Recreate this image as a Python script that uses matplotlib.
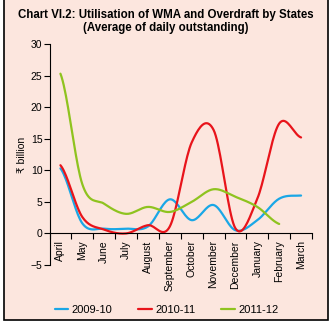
import numpy as np
import matplotlib
matplotlib.use("Agg")
import matplotlib.pyplot as plt
from matplotlib.patches import Rectangle

plt.rcParams['font.family'] = ['Liberation Sans', 'DejaVu Sans']

months = ["April", "May", "June", "July", "August", "September", "October",
          "November", "December", "January", "February", "March"]
wma_0910 = [10.3, 1.6, 0.75, 0.75, 1.1, 5.4, 2.1, 4.5, 0.5, 2.1, 5.5, 6.0]
wma_1011 = [10.8, 2.6, 0.6, 0.0, 1.3, 1.1, 14.4, 16.4, 0.8, 5.5, 17.4, 15.2]
wma_1112 = [25.3, 7.8, 4.7, 3.1, 4.2, 3.4, 5.0, 7.0, 5.8, 4.2, 1.5]
series = [("2009-10", wma_0910, "#1aa7e6"),
          ("2010-11", wma_1011, "#e8141b"),
          ("2011-12", wma_1112, "#8fc31f")]


# smoothed line like the spreadsheet (catmull-rom through the points)
def smooth(y, n=20):
    y = np.asarray(y, dtype=float)
    x = np.arange(len(y), dtype=float)
    p = np.concatenate([[y[0]], y, [y[-1]]])
    xs, ys = [], []
    for i in range(len(y) - 1):
        p0, p1, p2, p3 = p[i], p[i + 1], p[i + 2], p[i + 3]
        t = np.linspace(0, 1, n, endpoint=False)
        v = 0.5 * (2 * p1 + (-p0 + p2) * t + (2 * p0 - 5 * p1 + 4 * p2 - p3) * t ** 2
                   + (-p0 + 3 * p1 - 3 * p2 + p3) * t ** 3)
        xs.append(x[i] + t)
        ys.append(v)
    xs.append([x[-1]])
    ys.append([y[-1]])
    return np.concatenate(xs), np.concatenate(ys)


bg = "#fce6de"
fig = plt.figure(figsize=(3.31, 3.25), dpi=100, facecolor="white")
fig.patches.append(Rectangle((4 / 331, 5 / 325), 324 / 331, 325 / 325,
                             transform=fig.transFigure, facecolor=bg,
                             edgecolor="black", linewidth=1.2, zorder=-10))

ax = fig.add_axes([49.5 / 331, 60 / 325, 262.5 / 331, 221 / 325])
ax.set_facecolor("none")

for name, vals, col in series:
    xs, ys = smooth(vals)
    ax.plot(xs, ys, color=col, lw=1.6, label=name, solid_capstyle="round")

ax.set_xlim(-0.5, 11.5)
ax.set_ylim(-5, 30)
ax.set_yticks(range(-5, 31, 5))
ax.tick_params(axis="y", labelsize=7.5, length=4, width=0.8, pad=1)

ax.spines["top"].set_visible(False)
ax.spines["right"].set_visible(False)
ax.spines["bottom"].set_position(("data", 0))
ax.set_xticks(np.arange(-0.5, 12, 1))
ax.set_xticklabels([])
ax.set_xticks(range(12), minor=True)
ax.set_xticklabels(months, minor=True, rotation=90, fontsize=7.5, va="top")
ax.tick_params(axis="x", which="major", length=4, width=0.8, direction="out")
ax.tick_params(axis="x", which="minor", length=0, pad=5)

ax.set_ylabel("₹ billion", fontsize=7.5, labelpad=3)

fig.text(0.5, 1 - 15 / 325, "Chart VI.2: Utilisation of WMA and Overdraft by States",
         ha="center", va="center", fontsize=8.3, fontweight="bold")
fig.text(0.5, 1 - 28 / 325, "(Average of daily outstanding)",
         ha="center", va="center", fontsize=8.3, fontweight="bold")

fig.legend(loc="center", bbox_to_anchor=(0.503, 1 - 310 / 325), ncol=3,
           frameon=False, fontsize=8, handlelength=1.25, handletextpad=0.3,
           columnspacing=2.3)

fig.savefig("out.png", dpi=100, facecolor="white")
